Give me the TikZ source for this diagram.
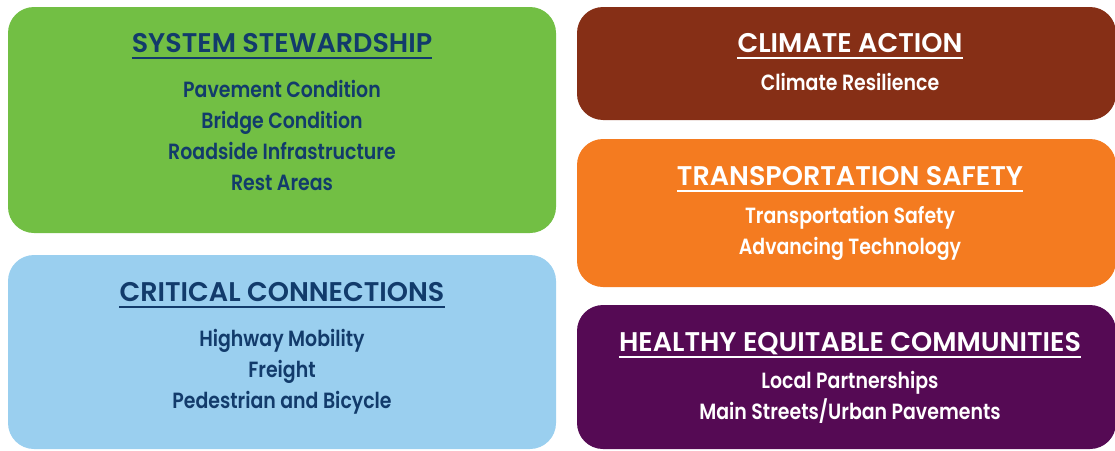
\documentclass[tikz,border=0pt]{standalone}
\usepackage{fontspec}
\setmainfont{Poppins SemiBold}
\newfontfamily\itemfont{Poppins SemiBold}[FakeStretch=0.86]
\usepackage{tikz}
\definecolor{stewgreen}{HTML}{72BF44}
\definecolor{connblue}{HTML}{9ACFEF}
\definecolor{climbrown}{HTML}{862F16}
\definecolor{safeorange}{HTML}{F47B20}
\definecolor{commpurple}{HTML}{550A54}
\definecolor{navy}{HTML}{123B6B}
\tikzset{
  panel/.style={rounded corners=26pt},
  heading/.style={anchor=base,inner sep=0pt,font=\fontsize{27}{27}\selectfont},
  item/.style={anchor=base,inner sep=0pt,font=\itemfont\fontsize{22}{22}\selectfont},
  rule/.style={line width=1.4pt}
}

\begin{document}
\begin{tikzpicture}[x=1pt,y=-1pt]
    \useasboundingbox (0,0) rectangle (1115,450);

    % System stewardship
    \fill[panel,stewgreen] (8,7) rectangle (556,233);
    \node[heading,text=navy] (stew) at (282,52) {SYSTEM STEWARDSHIP};
    \draw[rule,navy] ([yshift=-6pt]stew.base west) -- ([yshift=-6pt]stew.base east);
    \node[item,text=navy] (pave) at (282,97) {Pavement Condition};
    \node[item,text=navy] (bridge) at (282,128) {Bridge Condition};
    \node[item,text=navy] (road) at (282,159) {Roadside Infrastructure};
    \node[item,text=navy] (rest) at (282,190) {Rest Areas};

    % Critical connections
    \fill[panel,connblue] (8,255) rectangle (556,449);
    \node[heading,text=navy] (conn) at (282,301) {CRITICAL CONNECTIONS};
    \draw[rule,navy] ([yshift=-6pt]conn.base west) -- ([yshift=-6pt]conn.base east);
    \node[item,text=navy] (mob) at (282,346) {Highway Mobility};
    \node[item,text=navy] (freight) at (282,377) {Freight};
    \node[item,text=navy] (ped) at (282,408) {Pedestrian and Bicycle};

    % Climate action
    \fill[panel,climbrown] (577,7) rectangle (1116,120);
    \node[heading,text=white] (clim) at (850,52) {CLIMATE ACTION};
    \draw[rule,white] ([yshift=-6pt]clim.base west) -- ([yshift=-6pt]clim.base east);
    \node[item,text=white] (resil) at (850,90) {Climate Resilience};

    % Transportation safety
    \fill[panel,safeorange] (577,139) rectangle (1116,287);
    \node[heading,text=white] (safe) at (850,185) {TRANSPORTATION SAFETY};
    \draw[rule,white] ([yshift=-6pt]safe.base west) -- ([yshift=-6pt]safe.base east);
    \node[item,text=white] (tsafe) at (850,223) {Transportation Safety};
    \node[item,text=white] (tech) at (850,254) {Advancing Technology};

    % Healthy equitable communities
    \fill[panel,commpurple] (577,305) rectangle (1116,449);
    \node[heading,text=white] (comm) at (850,351) {HEALTHY EQUITABLE COMMUNITIES};
    \draw[rule,white] ([yshift=-6pt]comm.base west) -- ([yshift=-6pt]comm.base east);
    \node[item,text=white] (local) at (850,388) {Local Partnerships};
    \node[item,text=white] (main) at (850,419) {Main Streets/Urban Pavements};
\end{tikzpicture}
\end{document}
